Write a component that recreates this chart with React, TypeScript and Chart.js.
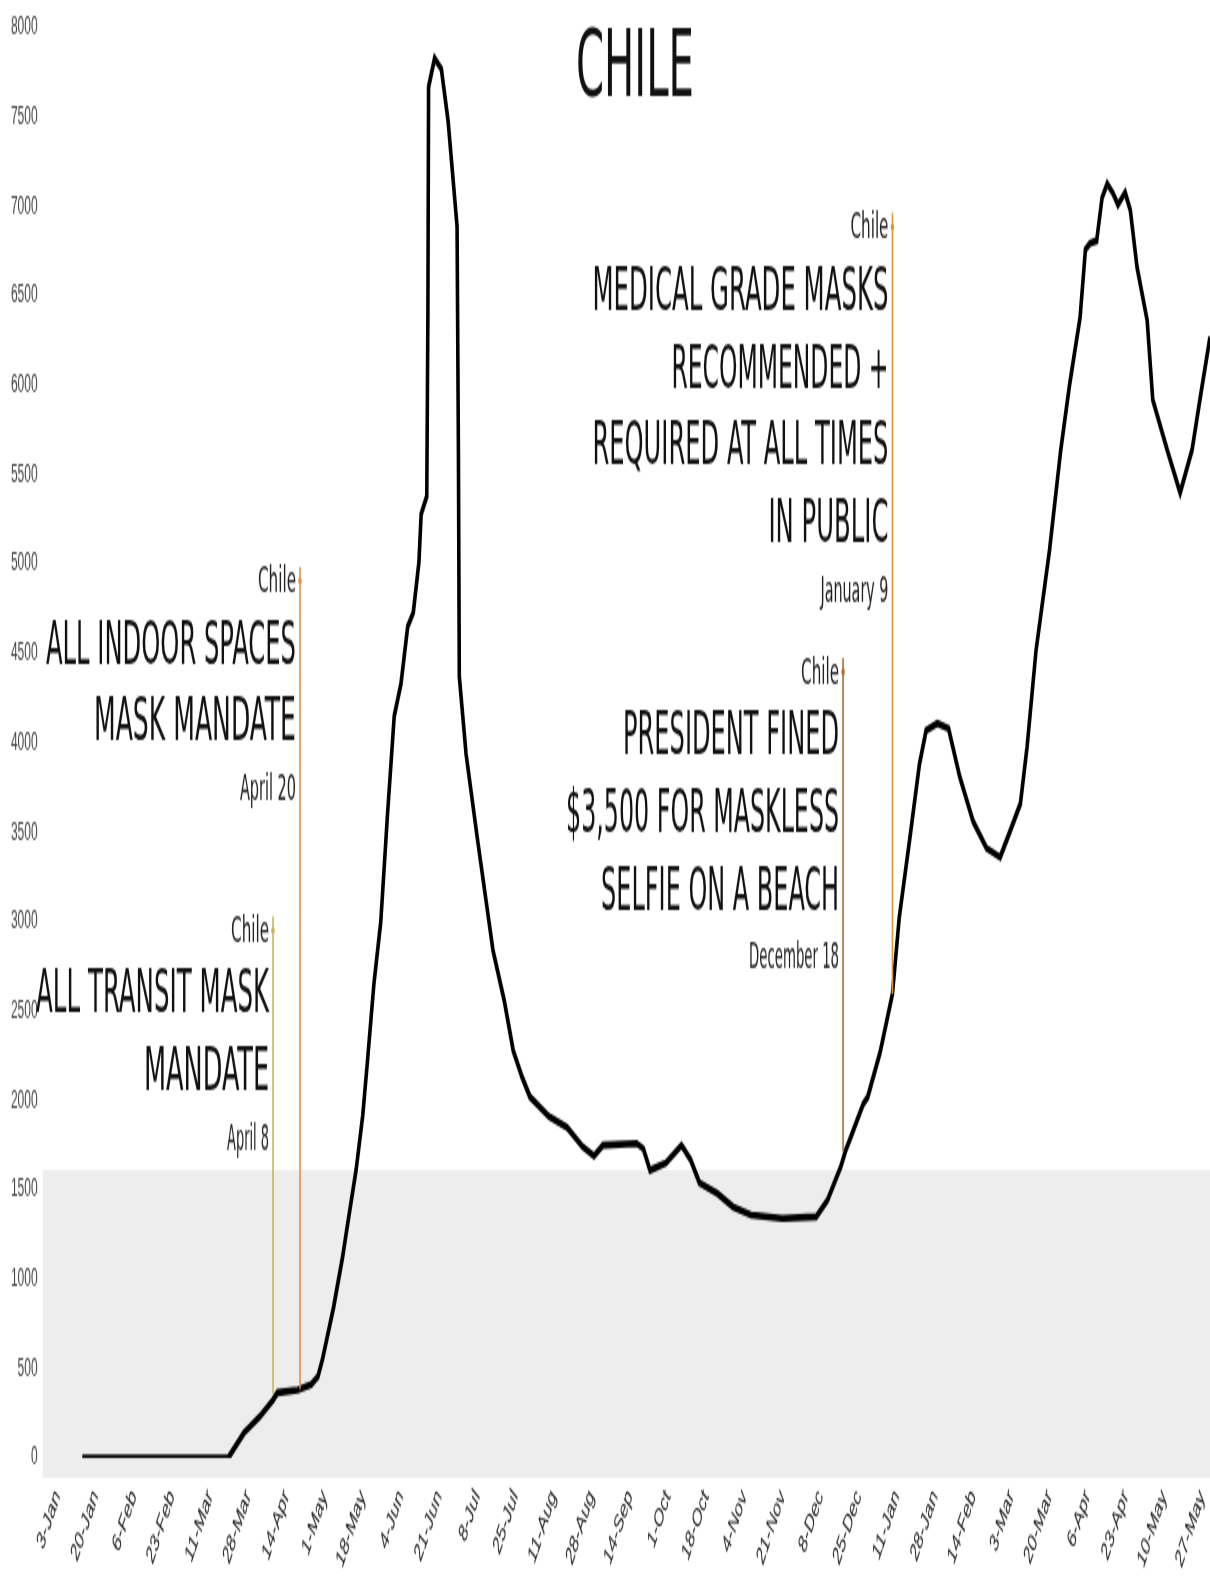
import React, { useEffect, useRef } from "react";
import { Chart, registerables } from "chart.js";

Chart.register(...registerables);

// ---- DATA (days counted from 3-Jan-2020) ----
const dayIndex = [
  11, 40, 76, 83, 90, 96, 98, 107, 113, 116, 118, 123, 127, 129, 133, 136, 138, 141, 144, 147,
  150, 153, 156, 158.5, 161, 162, 164.5, 165, 165.3, 168, 171, 174, 178, 178.6, 179, 182, 187, 194, 199, 203,
  207, 210.5, 219, 227, 234, 239, 243, 258, 261, 264, 271, 278, 282, 286, 294, 301, 309, 323, 338, 343,
  349, 351, 353, 359, 361, 366.5, 372, 375, 380, 384, 387, 392, 397, 402, 408, 414, 420, 424.5, 429, 432,
  436, 442, 447, 451, 455.6, 458, 460, 463, 465.4, 467.7, 470.3, 472.5, 475.7, 478, 481, 485.5, 488, 494.4, 500.2, 505.5,
  509, 513.5,
];
const dailyCases = [
  0, 0, 0, 140, 230, 325, 365, 380, 410, 455, 550, 845, 1125, 1290, 1610, 1920, 2210, 2660, 3000, 3600,
  4150, 4330, 4650, 4730, 5010, 5280, 5380, 6400, 7670, 7830, 7770, 7480, 6890, 5630, 4370, 3940, 3470, 2840, 2560, 2280,
  2130, 2020, 1910, 1850, 1740, 1690, 1750, 1760, 1730, 1610, 1650, 1750, 1670, 1540, 1480, 1405, 1360, 1340, 1350, 1440,
  1630, 1715, 1780, 1980, 2020, 2270, 2595, 3020, 3490, 3880, 4070, 4110, 4080, 3810, 3560, 3410, 3360, 3510, 3660, 3980,
  4520, 5080, 5640, 6010, 6380, 6760, 6795, 6810, 7050, 7130, 7075, 7010, 7080, 6980, 6660, 6365, 5920, 5640, 5400, 5640,
  5920, 6270,
];

const tickLabels = [
  "3-Jan", "20-Jan", "6-Feb", "23-Feb", "11-Mar", "28-Mar", "14-Apr", "1-May", "18-May", "4-Jun",
  "21-Jun", "8-Jul", "25-Jul", "11-Aug", "28-Aug", "14-Sep", "1-Oct", "18-Oct", "4-Nov", "21-Nov",
  "8-Dec", "25-Dec", "11-Jan", "28-Jan", "14-Feb", "3-Mar", "20-Mar", "6-Apr", "23-Apr", "10-May", "27-May",
];
const tickStepDays = 17;

const chartTitle = "CHILE";

// annotations
const annotationDays = [96, 108, 350, 372];
const annotationCountry = ["Chile", "Chile", "Chile", "Chile"];
const annotationHeadlines = [
  ["ALL TRANSIT MASK", "MANDATE"],
  ["ALL INDOOR SPACES", "MASK MANDATE"],
  ["PRESIDENT FINED", "$3,500 FOR MASKLESS", "SELFIE ON A BEACH"],
  ["MEDICAL GRADE MASKS", "RECOMMENDED +", "REQUIRED AT ALL TIMES", "IN PUBLIC"],
];
const annotationDates = ["April 8", "April 20", "December 18", "January 9"];
const annotationTopValues = [3030, 4985, 4475, 6965];
const annotationEndValues = [360, 385, 1715, 2595];

// ---- STYLE ----
const FONT_NARROW = '"Liberation Sans Narrow", "DejaVu Sans Condensed", "Liberation Sans", sans-serif';
const annotationColors = ["#c9b45a", "#e0914f", "#b06c34", "#d49a35"];
const headlineMaxWidths = [
  [233, 125],
  [250, 202],
  [216, 273, 238],
  [296, 217, 296, 120],
];
const dateMaxWidths = [42, 56, 90, 68];
const greyBandValue = 1610;

const W = 1210;
const H_INTERNAL = 794;
const H_DISPLAY = 1588;

const overlayPlugin = {
  id: "overlay",
  beforeDraw(chart: any) {
    const { ctx, chartArea, scales } = chart;
    const y = scales.y.getPixelForValue(greyBandValue);
    ctx.save();
    ctx.fillStyle = "#ededed";
    ctx.fillRect(chartArea.left - 15, y, chart.width, chartArea.bottom + 10 - y);
    ctx.restore();
  },
  afterDatasetsDraw(chart: any) {
    const { ctx, scales } = chart;
    const xs = scales.x;
    const ys = scales.y;
    ctx.save();
    annotationDays.forEach((d, i) => {
      const x = xs.getPixelForValue(d);
      const yTop = ys.getPixelForValue(annotationTopValues[i]);
      const yEnd = ys.getPixelForValue(annotationEndValues[i]);
      ctx.strokeStyle = annotationColors[i];
      ctx.lineWidth = 1.6;
      ctx.beginPath();
      ctx.moveTo(x, yTop);
      ctx.lineTo(x, yEnd);
      ctx.stroke();
      ctx.fillStyle = annotationColors[i];
      ctx.beginPath();
      ctx.arc(x, yTop + 7, 1.8, 0, Math.PI * 2);
      ctx.fill();

      const rx = x - 4;
      ctx.textAlign = "right";
      ctx.textBaseline = "middle";
      ctx.fillStyle = "#222";
      ctx.font = `18px ${FONT_NARROW}`;
      ctx.fillText(annotationCountry[i], rx, yTop + 8, 38);
      ctx.fillStyle = "#111";
      ctx.font = `30px ${FONT_NARROW}`;
      const lines = annotationHeadlines[i];
      lines.forEach((t, j) => {
        ctx.fillText(t, rx, yTop + 40.5 + j * 38.7, headlineMaxWidths[i][j]);
      });
      ctx.fillStyle = "#222";
      ctx.font = `17px ${FONT_NARROW}`;
      ctx.fillText(annotationDates[i], rx, yTop + 40.5 + (lines.length - 1) * 38.7 + 33, dateMaxWidths[i]);
    });
    ctx.restore();
  },
  afterDraw(chart: any) {
    const { ctx } = chart;
    ctx.save();
    ctx.fillStyle = "#111";
    ctx.font = `46px ${FONT_NARROW}`;
    ctx.textAlign = "center";
    ctx.textBaseline = "alphabetic";
    ctx.fillText(chartTitle, 635, 48, 118);
    ctx.restore();
  },
};

export default function App() {
  const canvasRef = useRef<HTMLCanvasElement | null>(null);

  useEffect(() => {
    document.body.style.margin = "0";
    document.body.style.background = "#ffffff";
    const canvas = canvasRef.current;
    if (!canvas) return;
    const points = dayIndex.map((d, i) => ({ x: d, y: dailyCases[i] }));
    const chart = new Chart(canvas, {
      type: "line",
      data: {
        datasets: [
          {
            label: "Chile",
            data: points,
            borderColor: "#000000",
            borderWidth: 3.6,
            pointRadius: 0,
            tension: 0,
            fill: false,
          },
        ],
      },
      options: {
        responsive: false,
        devicePixelRatio: 1,
        animation: false,
        layout: { padding: { top: 14, right: 0, left: 0, bottom: 0 } },
        plugins: {
          legend: { display: false },
          tooltip: { enabled: false },
          title: { display: false },
        },
        scales: {
          x: {
            type: "linear",
            min: 0,
            max: 513.5,
            grid: { display: false, drawTicks: false },
            border: { display: false },
            afterBuildTicks: (s: any) => {
              s.ticks = tickLabels.map((_, i) => ({ value: i * tickStepDays }));
            },
            afterFit: (s: any) => {
              s.height = 65;
              s.paddingLeft = 0;
              s.paddingRight = 0;
            },
            ticks: {
              autoSkip: false,
              minRotation: 57,
              maxRotation: 57,
              padding: 13,
              color: "#1a1a1a",
              font: { family: '"Liberation Sans", Arial, sans-serif', size: 13 },
              callback: (v: any) => tickLabels[Math.round(Number(v) / tickStepDays)] ?? "",
            },
          },
          y: {
            type: "linear",
            min: 0,
            max: 8000,
            grid: { display: false, drawTicks: false },
            border: { display: false },
            afterFit: (s: any) => {
              s.width = 57.6;
              s.paddingTop = 0;
              s.paddingBottom = 0;
            },
            ticks: {
              stepSize: 500,
              padding: 20,
              color: "#444",
              font: { family: '"Liberation Sans", Arial, sans-serif', size: 12 },
              callback: (v: any) => String(v),
            },
          },
        },
      },
      plugins: [overlayPlugin],
    });
    return () => chart.destroy();
  }, []);

  return (
    <canvas
      ref={canvasRef}
      width={W}
      height={H_INTERNAL}
      style={{ display: "block", width: `${W}px`, height: `${H_DISPLAY}px` }}
    />
  );
}
